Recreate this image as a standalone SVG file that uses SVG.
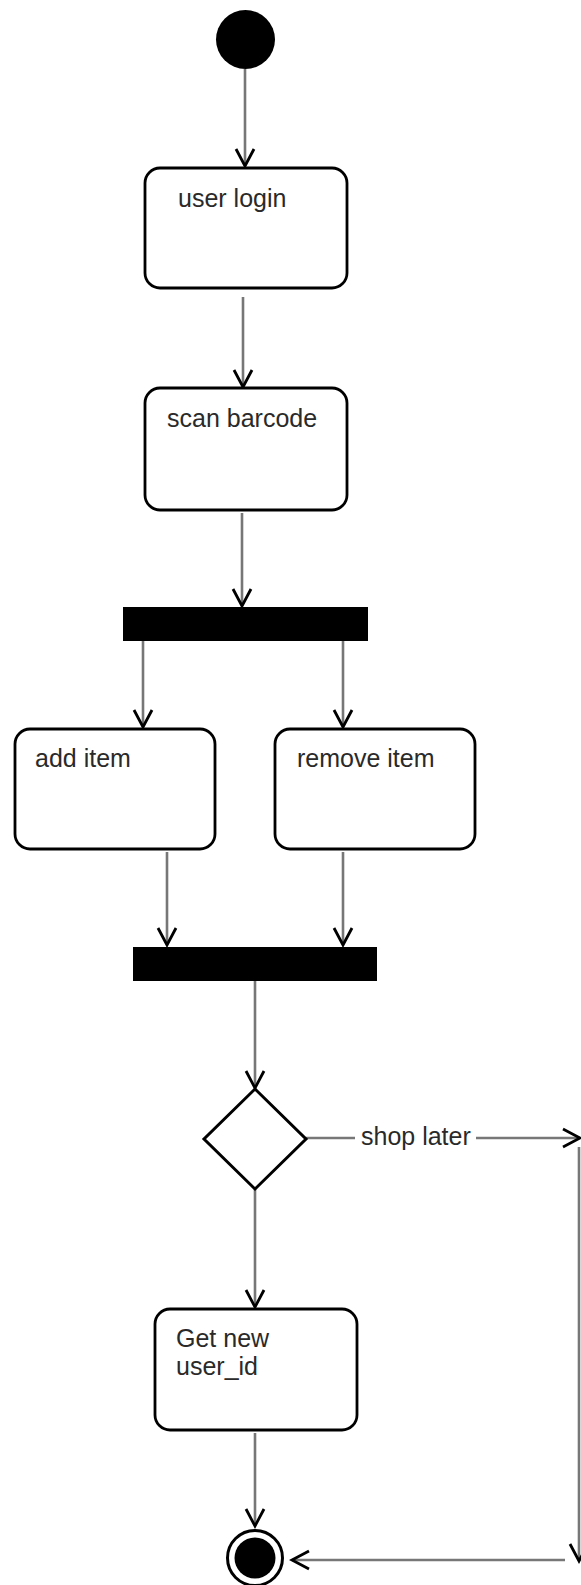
<svg xmlns="http://www.w3.org/2000/svg" width="581" height="1585" viewBox="0 0 581 1585">
  <defs>
    <style>
      .action { fill: #ffffff; stroke: #000000; stroke-width: 2.8; }
      .bar { fill: #000000; }
      .label { font-family: "Liberation Sans", Arial, sans-serif; font-size: 25px; fill: #2a2a2a; }
      .edge { fill: none; stroke: #777777; stroke-width: 2.6; marker-end: url(#open-arrow); }
    </style>
    <marker id="open-arrow" markerUnits="userSpaceOnUse" markerWidth="24" markerHeight="24" viewBox="-20 -12 24 24" refX="0" refY="0" orient="auto">
      <path d="M -17 -9 L 0 0 L -17 9" fill="none" stroke="#000000" stroke-width="2.8"/>
    </marker>
  </defs>
  <rect width="581" height="1585" fill="#ffffff"/>

  <!-- connectors -->
  <g id="connectors">
    <path class="edge" d="M 245 69 L 245 166"/>
    <path class="edge" d="M 243 297 L 243 387"/>
    <path class="edge" d="M 242 513 L 242 606"/>
    <path class="edge" d="M 143 641 L 143 727"/>
    <path class="edge" d="M 343 641 L 343 727"/>
    <path class="edge" d="M 167 852 L 167 945"/>
    <path class="edge" d="M 343 852 L 343 945"/>
    <path class="edge" d="M 255 981 L 255 1088"/>
    <path class="edge" d="M 255 1189 L 255 1307"/>
    <path class="edge" d="M 255 1433 L 255 1526"/>
    <g id="edge-shop-later">
      <path class="edge" d="M 306 1138 L 580 1138"/>
      <rect x="355" y="1122" width="121" height="32" fill="#ffffff"/>
      <text class="label" x="361" y="1145">shop later</text>
    </g>
    <path class="edge" d="M 579 1147 L 579 1561"/>
    <path class="edge" d="M 565 1560 L 292 1560"/>
  </g>

  <!-- nodes -->
  <g id="start">
    <circle cx="245.5" cy="39.5" r="29.5" fill="#000000"/>
  </g>

  <g id="user-login">
    <rect class="action" x="145" y="168" width="202" height="120" rx="15"/>
    <text class="label" x="178" y="207">user login</text>
  </g>

  <g id="scan-barcode">
    <rect class="action" x="145" y="388" width="202" height="122" rx="15"/>
    <text class="label" x="167" y="427">scan barcode</text>
  </g>

  <g id="fork">
    <rect class="bar" x="123" y="607" width="245" height="34"/>
  </g>

  <g id="add-item">
    <rect class="action" x="15" y="729" width="200" height="120" rx="15"/>
    <text class="label" x="35" y="767">add item</text>
  </g>

  <g id="remove-item">
    <rect class="action" x="275" y="729" width="200" height="120" rx="15"/>
    <text class="label" x="297" y="767">remove item</text>
  </g>

  <g id="join">
    <rect class="bar" x="133" y="947" width="244" height="34"/>
  </g>

  <g id="decision">
    <path d="M 255 1089 L 306 1139 L 255 1189 L 204 1139 Z" fill="#ffffff" stroke="#000000" stroke-width="3"/>
  </g>

  <g id="get-new-user-id">
    <rect class="action" x="155" y="1309" width="202" height="121" rx="15"/>
    <text class="label" x="176" y="1347">Get new</text>
    <text class="label" x="176" y="1375">user_id</text>
  </g>

  <g id="end">
    <circle cx="255" cy="1558" r="27.5" fill="#ffffff" stroke="#000000" stroke-width="3"/>
    <circle cx="255" cy="1558" r="20.5" fill="#000000"/>
  </g>
</svg>
